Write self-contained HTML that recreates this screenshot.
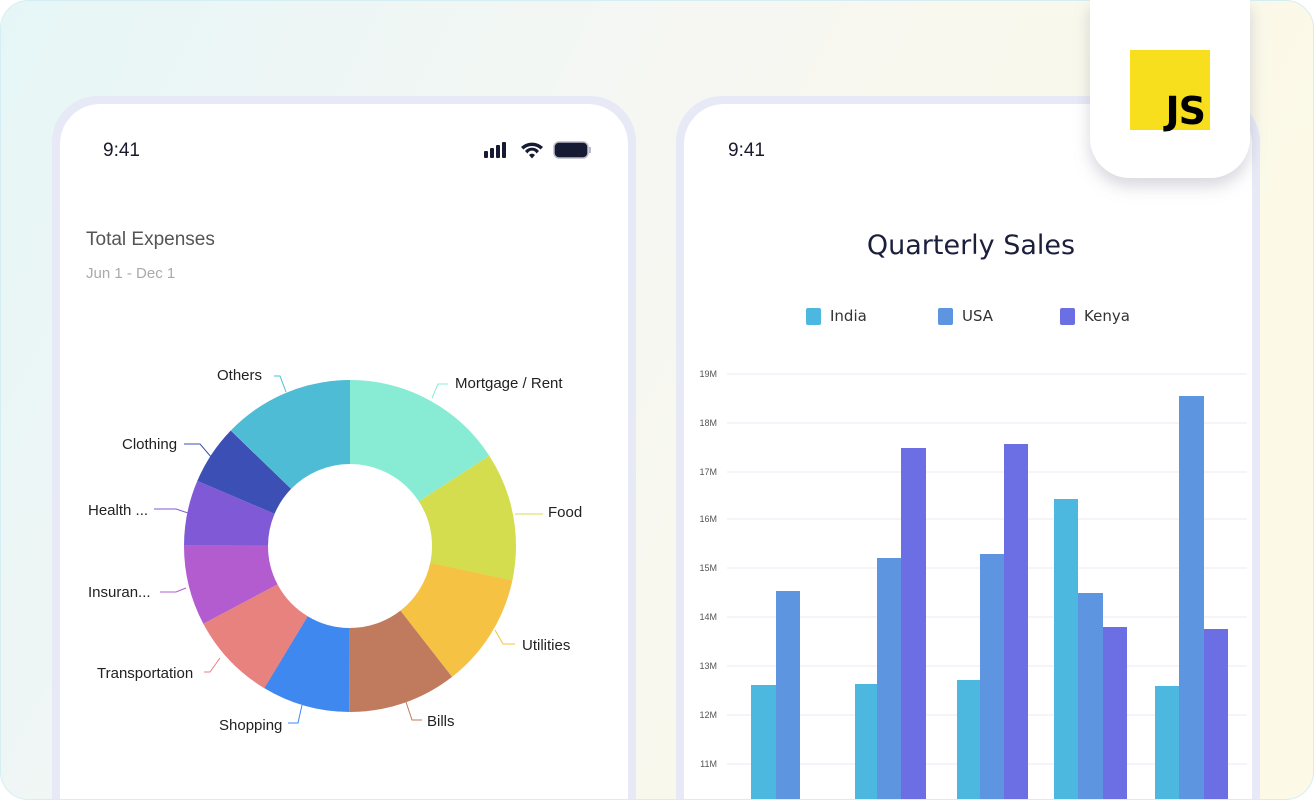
<!DOCTYPE html>
<html><head><meta charset="utf-8"><style>
html,body{margin:0;width:1314px;height:800px;overflow:hidden;font-family:"Liberation Sans",sans-serif;}
svg{display:block;overflow:hidden}
</style></head><body>
<svg width="1314" height="800" viewBox="0 0 1314 800" xmlns="http://www.w3.org/2000/svg">
<defs>
<linearGradient id="bg" x1="0" y1="0" x2="1" y2="0.3">
<stop offset="0" stop-color="#e6f6f7"/><stop offset="0.5" stop-color="#f6f7f3"/><stop offset="1" stop-color="#fcf9e6"/>
</linearGradient>
<filter id="sh" x="-20%" y="-20%" width="140%" height="160%"><feDropShadow dx="0" dy="8" stdDeviation="8" flood-color="#8a8aa0" flood-opacity="0.35"/></filter>
<clipPath id="cl"><rect x="0" y="0" width="1314" height="799"/></clipPath>
</defs>
<rect x="0.5" y="0.5" width="1313" height="799" rx="28" fill="url(#bg)" stroke="#d5eef3"/>
<g clip-path="url(#cl)">
<!-- left phone -->
<rect x="52" y="96" width="584" height="760" rx="46" fill="#e7e9f6"/>
<rect x="60" y="104" width="568" height="760" rx="40" fill="#fff"/>
<text x="103" y="156" font-size="19" fill="#1a1a2e">9:41</text>
<g fill="#171a33"><rect x="484" y="151" width="4" height="7" rx="1"/><rect x="490" y="148" width="4" height="10" rx="1"/><rect x="496" y="145" width="4" height="13" rx="1"/><rect x="502" y="142" width="4" height="16" rx="1"/>
<path d="M521 147 a16 16 0 0 1 22 0 l-2.5 2.5 a12 12 0 0 0 -17 0z M525 151 a9 9 0 0 1 14 0 l-2.5 2.5 a5 5 0 0 0 -9 0z M529 155 l3 3.5 l3 -3.5 a4 4 0 0 0 -6 0z"/>
<rect x="554" y="142" width="34" height="16" rx="5" fill="#171a33" stroke="#b8bac8" stroke-width="1.5"/><rect x="589" y="147" width="2" height="6" fill="#b8bac8"/></g>
<text x="86" y="245" font-size="19" fill="#555">Total Expenses</text>
<text x="86" y="278" font-size="15" fill="#aaa">Jun 1 - Dec 1</text>
<g transform="rotate(-90 350 546)" fill="none" stroke-width="84">
<circle cx="350" cy="546" r="124" stroke="#88ecd4" stroke-dasharray="123.4 779.1" stroke-dashoffset="0"/>
<circle cx="350" cy="546" r="124" stroke="#d4dd4e" stroke-dasharray="97.4 779.1" stroke-dashoffset="-123.4"/>
<circle cx="350" cy="546" r="124" stroke="#f5c243" stroke-dasharray="86.6 779.1" stroke-dashoffset="-220.7"/>
<circle cx="350" cy="546" r="124" stroke="#c07a5e" stroke-dasharray="82.2 779.1" stroke-dashoffset="-307.3"/>
<circle cx="350" cy="546" r="124" stroke="#3f88ef" stroke-dasharray="67.1 779.1" stroke-dashoffset="-389.6"/>
<circle cx="350" cy="546" r="124" stroke="#e8827f" stroke-dasharray="67.1 779.1" stroke-dashoffset="-456.6"/>
<circle cx="350" cy="546" r="124" stroke="#b35ccf" stroke-dasharray="60.6 779.1" stroke-dashoffset="-523.7"/>
<circle cx="350" cy="546" r="124" stroke="#8059d6" stroke-dasharray="49.8 779.1" stroke-dashoffset="-584.3"/>
<circle cx="350" cy="546" r="124" stroke="#3c4fb5" stroke-dasharray="45.4 779.1" stroke-dashoffset="-634.1"/>
<circle cx="350" cy="546" r="124" stroke="#4fbcd6" stroke-dasharray="99.5 779.1" stroke-dashoffset="-679.6"/>
</g>
<g fill="none" stroke-width="1">
<path d="M432 398 l6 -14 h10" stroke="#88ecd4"/>
<path d="M515 514 h28" stroke="#d4dd4e"/>
<path d="M495 630 l8 14 h12" stroke="#f5c243"/>
<path d="M406 702 l6 18 h10" stroke="#c07a5e"/>
<path d="M302 705 l-4 18 h-10" stroke="#3f88ef"/>
<path d="M220 658 l-10 14 h-6" stroke="#e8827f"/>
<path d="M186 588 l-10 4 h-16" stroke="#b35ccf"/>
<path d="M188 513 l-12 -4 h-22" stroke="#8059d6"/>
<path d="M212 458 l-12 -14 h-16" stroke="#3c4fb5"/>
<path d="M286 392 l-6 -16 h-6" stroke="#4fbcd6"/>
</g>
<g font-size="15" fill="#222">
<text x="455" y="388">Mortgage / Rent</text>
<text x="548" y="517">Food</text>
<text x="522" y="650">Utilities</text>
<text x="427" y="726">Bills</text>
<text x="219" y="730">Shopping</text>
<text x="97" y="678">Transportation</text>
<text x="88" y="597">Insuran...</text>
<text x="88" y="515">Health ...</text>
<text x="122" y="449">Clothing</text>
<text x="217" y="380">Others</text>
</g>
<!-- right phone -->
<rect x="676" y="96" width="584" height="760" rx="46" fill="#e7e9f6"/>
<rect x="684" y="104" width="568" height="760" rx="40" fill="#fff"/>
<text x="728" y="156" font-size="19" fill="#1a1a2e">9:41</text>
<text x="971" y="254" font-size="27" fill="#1b1f3b" text-anchor="middle" font-family="DejaVu Sans,sans-serif">Quarterly Sales</text>
<g font-family="DejaVu Sans,sans-serif" font-size="15" fill="#333">
<rect x="806" y="308" width="15" height="17" rx="2" fill="#4cb8df"/><text x="830" y="321">India</text>
<rect x="938" y="308" width="15" height="17" rx="2" fill="#5d95e0"/><text x="962" y="321">USA</text>
<rect x="1060" y="308" width="15" height="17" rx="2" fill="#6b6fe3"/><text x="1084" y="321">Kenya</text>
</g>
<g stroke="#e8e9f5" stroke-width="1">
<line x1="727" y1="374" x2="1247" y2="374"/><line x1="727" y1="423" x2="1247" y2="423"/><line x1="727" y1="472" x2="1247" y2="472"/><line x1="727" y1="519" x2="1247" y2="519"/><line x1="727" y1="568" x2="1247" y2="568"/><line x1="727" y1="617" x2="1247" y2="617"/><line x1="727" y1="666" x2="1247" y2="666"/><line x1="727" y1="715" x2="1247" y2="715"/><line x1="727" y1="764" x2="1247" y2="764"/>
</g>
<g font-size="9" fill="#555" text-anchor="end">
<text x="717" y="377">19M</text><text x="717" y="426">18M</text><text x="717" y="475">17M</text><text x="717" y="522">16M</text><text x="717" y="571">15M</text><text x="717" y="620">14M</text><text x="717" y="669">13M</text><text x="717" y="718">12M</text><text x="717" y="767">11M</text>
</g>
<g fill="#4cb8df">
<rect x="751" y="685" width="25" height="120"/><rect x="855" y="684" width="22" height="120"/><rect x="957" y="680" width="23" height="120"/><rect x="1054" y="499" width="24" height="310"/><rect x="1155" y="686" width="24" height="120"/>
</g>
<g fill="#5d95e0">
<rect x="776" y="591" width="24" height="220"/><rect x="877" y="558" width="24" height="250"/><rect x="980" y="554" width="24" height="250"/><rect x="1078" y="593" width="25" height="220"/><rect x="1179" y="396" width="25" height="410"/>
</g>
<g fill="#6b6fe3">
<rect x="901" y="448" width="25" height="360"/><rect x="1004" y="444" width="24" height="360"/><rect x="1103" y="627" width="24" height="180"/><rect x="1204" y="629" width="24" height="180"/>
</g>
<!-- JS badge -->
<path d="M1090 0 H1250 V138 a40 40 0 0 1 -40 40 H1130 a40 40 0 0 1 -40 -40 Z" fill="#fff" filter="url(#sh)"/>
<rect x="1130" y="50" width="80" height="80" fill="#f7df1e"/>
<text x="1205" y="124" font-size="38" font-weight="bold" fill="#000" text-anchor="end" font-family="DejaVu Sans,sans-serif" letter-spacing="-1">JS</text>
</g>
</svg>
</body></html>
